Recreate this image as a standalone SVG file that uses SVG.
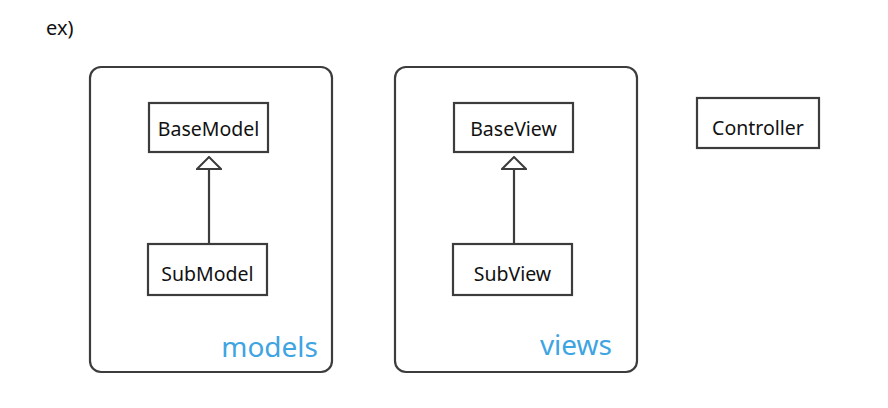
<svg xmlns="http://www.w3.org/2000/svg" width="888" height="408" viewBox="0 0 888 408">
<style>
.pkg{fill:none;stroke:#3c3c3c;stroke-width:2.2}
.box{fill:#fff;stroke:#3c3c3c;stroke-width:2.2}
.lbl{font-family:"Noto Sans","Open Sans",sans-serif;font-size:19.5px;fill:#111;text-anchor:middle}
.pl{font-family:"Noto Sans","Open Sans",sans-serif;font-size:28px;fill:#3fa4e2}
.edge{fill:none;stroke:#3c3c3c;stroke-width:2.2}
</style>
<defs>
<marker id="tri" viewBox="0 0 14 26" refX="13" refY="13" markerWidth="14" markerHeight="26" markerUnits="userSpaceOnUse" orient="auto">
<path d="M1,1 L13,13 L1,25 Z" fill="#fff" stroke="#3c3c3c" stroke-width="2"/>
</marker>
</defs>
<rect width="888" height="408" fill="#fff"/>
<text x="46" y="35" font-family="Noto Sans, Open Sans, sans-serif" font-size="20" fill="#111">ex)</text>
<g id="models">
<rect class="pkg" x="90" y="67" width="242" height="305" rx="11"/>
<text class="pl" x="318" y="357" text-anchor="end">models</text>
</g>
<g id="views">
<rect class="pkg" x="395" y="67" width="242" height="305" rx="11"/>
<text class="pl" x="612" y="355" text-anchor="end">views</text>
</g>
<g id="BaseModel">
<rect class="box" x="149" y="103" width="119" height="49"/>
<text class="lbl" x="208.5" y="136">BaseModel</text>
</g>
<g id="SubModel">
<rect class="box" x="148" y="244" width="119" height="51"/>
<text class="lbl" x="207.5" y="281">SubModel</text>
</g>
<g id="BaseView">
<rect class="box" x="454" y="103" width="119" height="49"/>
<text class="lbl" x="513.5" y="136">BaseView</text>
</g>
<g id="SubView">
<rect class="box" x="453" y="244" width="119" height="51"/>
<text class="lbl" x="512.5" y="281">SubView</text>
</g>
<g id="Controller">
<rect class="box" x="697" y="98" width="122" height="50"/>
<text class="lbl" x="758" y="135">Controller</text>
</g>
<g id="connectors">
<path class="edge" d="M209,244 L209,157" marker-end="url(#tri)"/>
<path class="edge" d="M514,244 L514,157" marker-end="url(#tri)"/>
</g>
</svg>
